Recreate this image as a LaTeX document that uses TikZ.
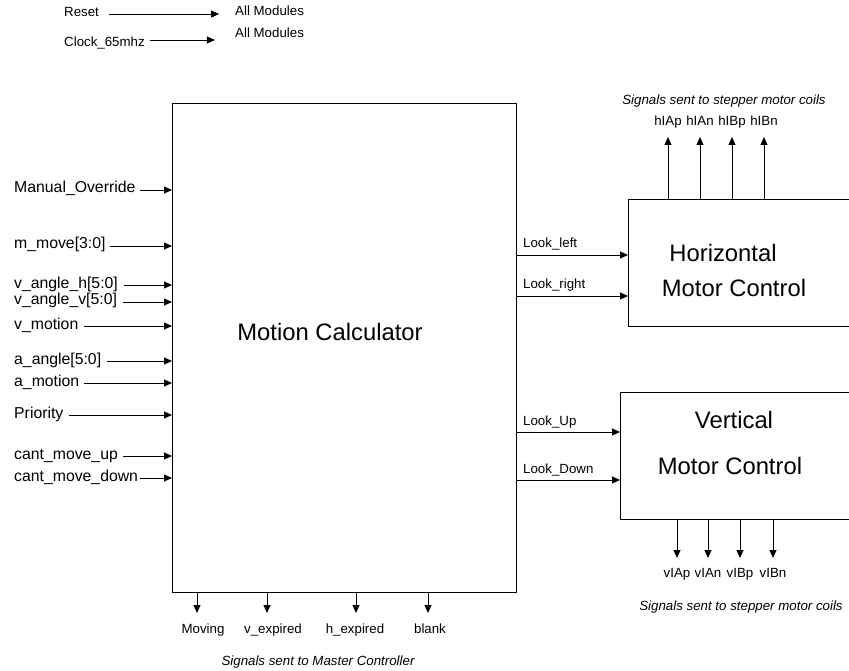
\documentclass[tikz,border=0pt]{standalone}
\usepackage{fontspec}
\setmainfont{Liberation Sans}
\usetikzlibrary{arrows.meta}
\begin{document}
\begin{tikzpicture}[x=1pt,y=-1pt,
  lab/.style={font=\fontsize{15.8}{18}\selectfont, inner sep=0pt, text height=10pt, text depth=4pt, anchor=west},
  sm/.style={font=\fontsize{13.3}{16}\selectfont, inner sep=0pt, text height=9pt, text depth=3pt},
  smit/.style={sm, font=\fontsize{13.3}{16}\selectfont\itshape},
  big/.style={font=\fontsize{23.8}{28}\selectfont, inner sep=0pt},
  blockbox/.style={draw, line width=0.9pt, inner sep=0pt, outer sep=0pt, anchor=north west},
  sig/.style={line width=0.9pt, -{Triangle[length=8pt,width=7pt]}}]
\useasboundingbox (0,0) rectangle (849,671);
\clip (0,0) rectangle (849,671);
\fill[white] (0,0) rectangle (849,671);

% top global signals
\node[sm, anchor=west] (rst) at (64,14) {Reset};
\node[sm, anchor=west] (all1) at (235,13) {All Modules};
\draw[sig] ([xshift=10pt]rst.east) -- ++(110,0);
\node[sm, anchor=west] (clk) at (64,44) {Clock\_65mhz};
\node[sm, anchor=west] (all2) at (235,35) {All Modules};
\draw[sig] ([xshift=5pt,yshift=4pt]clk.east) -- ++(65,0);

% main block
\node[blockbox, minimum width=344pt, minimum height=489pt] (mc) at (172,103) {};
\node[big] (mctext) at (330,332) {Motion Calculator};

% inputs
\node[lab] (i1) at (14,190) {Manual\_Override};
\node[lab] (i2) at (14,246) {m\_move[3:0]};
\node[lab] (i3) at (14,285) {v\_angle\_h[5:0]};
\node[lab] (i4) at (14,302) {v\_angle\_v[5:0]};
\node[lab] (i5) at (14,326) {v\_motion};
\node[lab] (i6) at (14,361) {a\_angle[5:0]};
\node[lab] (i7) at (14,383) {a\_motion};
\node[lab] (i8) at (14,415) {Priority};
\node[lab] (i9) at (14,456) {cant\_move\_up};
\node[lab] (i10) at (14,478) {cant\_move\_down};
\draw[sig] ([xshift=4pt]i1.east) -- (i1.east -| mc.west);
\draw[sig] ([xshift=4pt]i2.east) -- (i2.east -| mc.west);
\draw[sig] ([xshift=6pt]i3.east) -- (i3.east -| mc.west);
\draw[sig] ([xshift=6pt]i4.east) -- (i4.east -| mc.west);
\draw[sig] ([xshift=5pt]i5.east) -- (i5.east -| mc.west);
\draw[sig] ([xshift=6pt]i6.east) -- (i6.east -| mc.west);
\draw[sig] ([xshift=5pt]i7.east) -- (i7.east -| mc.west);
\draw[sig] ([xshift=5pt]i8.east) -- (i8.east -| mc.west);
\draw[sig] ([xshift=5pt]i9.east) -- (i9.east -| mc.west);
\draw[sig] ([xshift=2pt]i10.east) -- (i10.east -| mc.west);

% horizontal motor control
\node[blockbox, minimum width=260pt, minimum height=127pt] (hb) at (628,199) {};
\node[big] (hbt1) at (723,253) {Horizontal};
\node[big] (hbt2) at (734,288) {Motor Control};

% vertical motor control
\node[blockbox, minimum width=260pt, minimum height=127pt] (vb) at (620,392) {};
\node[big] (vbt1) at (734,420) {Vertical};
\node[big] (vbt2) at (730,466) {Motor Control};

% look signals
\draw[sig] (mc.east |- 0,255) -- (hb.west |- 0,255);
\node[sm, anchor=west] (ll) at (523,245) {Look\_left};
\draw[sig] (mc.east |- 0,296) -- (hb.west |- 0,296);
\node[sm, anchor=west] (lr) at (523,285) {Look\_right};
\draw[sig] (mc.east |- 0,432) -- (vb.west |- 0,432);
\node[sm, anchor=west] (lu) at (523,422) {Look\_Up};
\draw[sig] (mc.east |- 0,480) -- (vb.west |- 0,480);
\node[sm, anchor=west] (ld) at (523,470) {Look\_Down};

% horizontal coil outputs
\foreach \x/\t [count=\i] in {668/hIAp,700/hIAn,732/hIBp,764/hIBn}{
  \draw[sig] (hb.north west -| \x,0) -- ++(0,-62);
  \node[sm] (ho\i) at (\x,123) {\t};
}
\node[smit] (htitle) at (724,102) {Signals sent to stepper motor coils};

% vertical coil outputs
\foreach \x/\t [count=\i] in {677/vIAp,708/vIAn,740/vIBp,773/vIBn}{
  \draw[sig] (vb.south west -| \x,0) -- ++(0,39);
  \node[sm] (vo\i) at (\x,574) {\t};
}
\node[smit] (vtitle) at (741,607) {Signals sent to stepper motor coils};

% outputs to master controller
\draw[sig] (mc.south west -| 197,0) -- ++(0,21);
\draw[sig] (mc.south west -| 267,0) -- ++(0,21);
\draw[sig] (mc.south west -| 356,0) -- ++(0,21);
\draw[sig] (mc.south west -| 428,0) -- ++(0,21);
\node[sm] (o1) at (203,630) {Moving};
\node[sm] (o2) at (273,630) {v\_expired};
\node[sm] (o3) at (355,630) {h\_expired};
\node[sm] (o4) at (430,630) {blank};
\node[smit] (otitle) at (318,662) {Signals sent to Master Controller};
\end{tikzpicture}
\end{document}
